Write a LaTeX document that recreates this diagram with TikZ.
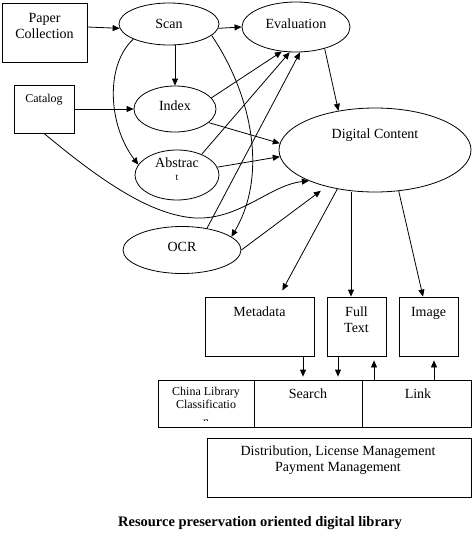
\documentclass[tikz,border=0pt]{standalone}
\usepackage{fontspec}
\setmainfont{Liberation Serif}
\usetikzlibrary{shapes.geometric,arrows.meta}
\begin{document}
\begin{tikzpicture}[x=1pt,y=-1pt,
  line width=0.8pt,
  ell/.style={draw,ellipse,inner sep=0pt},
  box/.style={draw,rectangle,inner sep=0pt},
  txt/.style={inner sep=0pt,align=center,font=\fontsize{14}{16}\selectfont},
  smalltxt/.style={inner sep=0pt,align=center,font=\fontsize{12}{12.5}\selectfont},
  arr/.style={-{Triangle[length=7pt,width=6pt]}}]
\useasboundingbox (0,0) rectangle (474,546);

% boxes and ellipses
\node[box,minimum width=85,minimum height=59] (pc) at (44.5,32.5) {};
\node[txt] (pct) at (44.5,26) {Paper\\Collection};
\node[box,minimum width=60,minimum height=48] (cat) at (44,109) {};
\node[smalltxt] (catt) at (44,100) {Catalog};
\node[ell,minimum width=100,minimum height=42] (scan) at (169,24) {};
\node[txt] (scant) at (169,24) {Scan};
\node[ell,minimum width=108,minimum height=50] (eval) at (296,27) {};
\node[txt] (evalt) at (296,24) {Evaluation};
\node[ell,minimum width=82,minimum height=46] (index) at (175,109) {};
\node[txt] (indext) at (175,106) {Index};
\node[ell,minimum width=84,minimum height=50] (abs) at (177,175) {};
\node[txt] (abst) at (177,163) {Abstrac};
\node[inner sep=0pt,font=\fontsize{10}{10}\selectfont] (abst2) at (177,178) {t};
\node[ell,minimum width=192,minimum height=84] (dc) at (375,150) {};
\node[txt] (dct) at (375,135) {Digital Content};
\node[ell,minimum width=118,minimum height=47] (ocr) at (182,250) {};
\node[txt] (ocrt) at (182,247) {OCR};
\node[box,minimum width=109,minimum height=59] (meta) at (259.5,326.5) {};
\node[txt] (metat) at (259.5,312) {Metadata};
\node[box,minimum width=59,minimum height=59] (ft) at (356.5,326.5) {};
\node[txt] (ftt) at (356.5,319.5) {Full\\Text};
\node[box,minimum width=59,minimum height=59] (img) at (428.5,326.5) {};
\node[txt] (imgt) at (428.5,313) {Image};
\node[box,minimum width=96,minimum height=47] (cls) at (206,403.5) {};
\node[smalltxt] (clst) at (206,398) {China Library\\Classificatio};
\begin{scope}
\clip (158,380) rectangle (254,420);
\node[smalltxt] (clsn) at (206,422.5) {n};
\end{scope}
\node[box,minimum width=108,minimum height=47] (search) at (308,403.5) {};
\node[txt] (searcht) at (308,394) {Search};
\node[box,minimum width=109,minimum height=47] (link) at (416.5,403.5) {};
\node[txt] (linkt) at (418,394) {Link};
\node[box,minimum width=264,minimum height=59] (dist) at (339,467.5) {};
\node[txt] (distt) at (338,460.5) {Distribution, License Management\\Payment Management};
\node[inner sep=0pt,font=\bfseries\fontsize{14.5}{16}\selectfont] (cap) at (260,523) {Resource preservation oriented digital library};

% connectors
\draw[arr] ([yshift=5.5pt]pc.east) -- (scan.185);
\draw[arr] (scan.-5) -- (eval.180);
\draw[arr] (index.north |- scan.south) -- (index.north);
\draw[arr] (cat.east |- index.west) -- (index.west);
\draw[arr] (scan.203) .. controls (105,65) and (108,125) .. (abs.165);
\draw[arr] (scan.-15) .. controls (252,95) and (268,175) .. (ocr.15);
\draw[arr] (index.17) -- (eval.240);
\draw[arr] (abs.40) -- (eval.256);
\draw[arr] (ocr.41) -- (eval.279);
\draw[arr] (index.-22) -- (dc.176);
\draw[arr] (abs.11) -- (dc.184);
\draw[arr] (cat.south) .. controls (100,180) and (150,215) .. (195,218)
   .. controls (240,220) and (270,185) .. (dc.205);
\draw[arr] (eval.-37) -- (dc.133);
\draw[arr,shorten >=7pt] (ocr.east) -- (dc.217);
\draw[arr,shorten >=7pt] (dc.226) -- ([xshift=19.5pt]meta.north);
\coordinate (ftin) at ([xshift=-5.5pt]ft.north);
\draw[arr] (ftin |- dc.south) -- (ftin);
\draw[arr] (dc.-60) -- ([xshift=-5.5pt]img.north);

\coordinate (m1) at ([xshift=43.5pt]meta.south);
\draw[arr,shorten >=3pt] (m1) -- (m1 |- search.north);
\coordinate (f1) at ([xshift=-18.5pt]ft.south);
\draw[arr,shorten >=3pt] (f1) -- (f1 |- search.north);
\coordinate (f2) at ([xshift=17.5pt]ft.south);
\draw[arr,shorten >=4pt] (f2 |- link.north) -- (f2);
\coordinate (i2) at ([xshift=5.5pt]img.south);
\draw[arr,shorten >=4pt] (i2 |- link.north) -- (i2);
\end{tikzpicture}
\end{document}
